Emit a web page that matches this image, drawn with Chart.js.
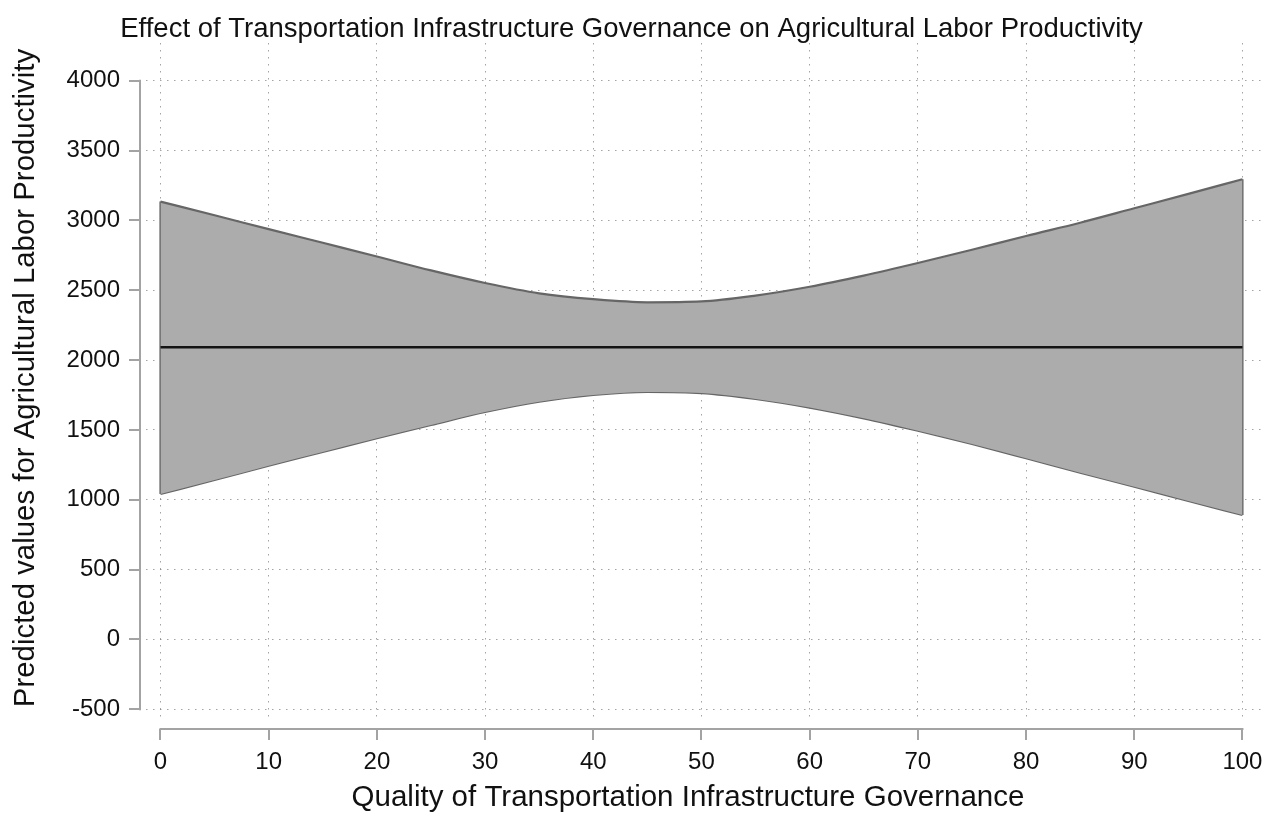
<!DOCTYPE html>
<html>
<head>
<meta charset="utf-8">
<title>Effect of Transportation Infrastructure Governance on Agricultural Labor Productivity</title>
<script src="https://cdn.jsdelivr.net/npm/chart.js@4.4.1/dist/chart.umd.min.js"></script>
<style>
  html, body { margin: 0; padding: 0; background: #ffffff; }
  #c { display: block; }
</style>
</head>
<body>
<canvas id="c" width="1266" height="815"></canvas>
<script>
// Quality of transportation infrastructure governance (x)
const quality = [0, 5, 10, 15, 20, 25, 30, 35, 40, 45, 50, 55, 60, 65, 70, 75, 80, 85, 90, 95, 100];
// Predicted agricultural labor productivity and its confidence bounds
const predicted = [2092, 2092, 2092, 2092, 2092, 2092, 2092, 2092, 2092, 2092, 2092,
                   2092, 2092, 2092, 2092, 2092, 2092, 2092, 2092, 2092, 2092];
const upperCI = [3135, 3037, 2938, 2840, 2742, 2642, 2552, 2478, 2436, 2414, 2420,
                 2462, 2525, 2605, 2695, 2790, 2889, 2984, 3087, 3190, 3295];
const lowerCI = [1041, 1141, 1244, 1342, 1440, 1535, 1628, 1702, 1750, 1772, 1764,
                 1722, 1660, 1583, 1494, 1399, 1297, 1193, 1093, 991, 890];
// Axis ticks
const xTicks = [0, 10, 20, 30, 40, 50, 60, 70, 80, 90, 100];
const yTicks = [-500, 0, 500, 1000, 1500, 2000, 2500, 3000, 3500, 4000];
// Titles
const chartTitle = 'Effect of Transportation Infrastructure Governance on Agricultural Labor Productivity';
const xTitle = 'Quality of Transportation Infrastructure Governance';
const yTitle = 'Predicted values for Agricultural Labor Productivity';

const FONT = '"Liberation Sans", Arial, Helvetica, sans-serif';
const BAND_FILL = '#acacac';
const BAND_EDGE = '#666666';
const AXIS_GRAY = '#a3a3a3';
const GRID = 'rgba(90,90,90,0.55)';

const pts = (ys) => quality.map((x, i) => ({ x: x, y: ys[i] }));
const last = quality.length - 1;

// Stata-style detached axis lines with outward tick marks, plus axis titles
const detachedAxes = {
  id: 'detachedAxes',
  afterDraw(chart) {
    const { ctx, chartArea, scales: { x, y } } = chart;
    ctx.save();
    ctx.strokeStyle = AXIS_GRAY;
    ctx.lineWidth = 2;
    ctx.lineCap = 'butt';
    // y axis
    const ax = chartArea.left - 6;
    ctx.beginPath();
    ctx.moveTo(ax, y.getPixelForValue(yTicks[0]) + 1);
    ctx.lineTo(ax, y.getPixelForValue(yTicks[yTicks.length - 1]) - 1);
    yTicks.forEach(v => {
      const py = Math.round(y.getPixelForValue(v));
      ctx.moveTo(ax, py);
      ctx.lineTo(ax - 11, py);
    });
    ctx.stroke();
    // x axis
    const ay = chartArea.bottom + 8;
    ctx.beginPath();
    ctx.moveTo(x.getPixelForValue(xTicks[0]) - 1, ay);
    ctx.lineTo(x.getPixelForValue(xTicks[xTicks.length - 1]) + 1, ay);
    xTicks.forEach(v => {
      const px = Math.round(x.getPixelForValue(v));
      ctx.moveTo(px, ay);
      ctx.lineTo(px, ay + 11);
    });
    ctx.stroke();

    // axis titles
    ctx.fillStyle = '#111111';
    ctx.font = '29.5px ' + FONT;
    ctx.textAlign = 'center';
    ctx.textBaseline = 'middle';
    ctx.fillText(xTitle, 688, 798);
    ctx.translate(25.5, 378);
    ctx.rotate(-Math.PI / 2);
    ctx.font = '29.4px ' + FONT;
    ctx.fillText(yTitle, 0, 0);
    ctx.restore();
  }
};

const ctx = document.getElementById('c').getContext('2d');
new Chart(ctx, {
  type: 'line',
  data: {
    datasets: [
      {
        label: 'Predicted value',
        data: pts(predicted),
        borderColor: '#141414',
        borderWidth: 2.5,
        fill: false,
        pointRadius: 0
      },
      {
        label: 'Upper bound',
        data: pts(upperCI),
        borderColor: BAND_EDGE,
        borderWidth: 2.2,
        backgroundColor: BAND_FILL,
        fill: '+1',
        pointRadius: 0,
        cubicInterpolationMode: 'monotone'
      },
      {
        label: 'Lower bound',
        data: pts(lowerCI),
        borderColor: BAND_EDGE,
        borderWidth: 2.2,
        fill: false,
        pointRadius: 0,
        cubicInterpolationMode: 'monotone'
      },
      {
        label: 'Left edge',
        data: [{ x: quality[0], y: lowerCI[0] }, { x: quality[0], y: upperCI[0] }],
        borderColor: BAND_EDGE,
        borderWidth: 2.2,
        fill: false,
        pointRadius: 0
      },
      {
        label: 'Right edge',
        data: [{ x: quality[last], y: lowerCI[last] }, { x: quality[last], y: upperCI[last] }],
        borderColor: BAND_EDGE,
        borderWidth: 2.2,
        fill: false,
        pointRadius: 0
      }
    ]
  },
  options: {
    responsive: false,
    animation: false,
    events: [],
    layout: { padding: { top: 0, right: 3, bottom: 0, left: 0 } },
    plugins: {
      legend: { display: false },
      tooltip: { enabled: false },
      title: {
        display: true,
        text: chartTitle,
        color: '#111111',
        font: { family: FONT, size: 27.5, weight: 'normal', lineHeight: 1.0 },
        padding: { top: 15.5, bottom: 0 }
      }
    },
    scales: {
      x: {
        type: 'linear',
        min: -1.34,
        max: 101.9,
        z: 1,
        afterFit(scale) {
          scale.height = 94;
          scale.paddingLeft = 0;
          scale.paddingRight = 0;
        },
        afterBuildTicks(scale) { scale.ticks = xTicks.map(v => ({ value: v })); },
        ticks: {
          color: '#111111',
          font: { family: FONT, size: 24 },
          padding: 27,
          maxRotation: 0,
          autoSkip: false,
          callback: (v) => String(v)
        },
        grid: {
          color: GRID,
          lineWidth: 1,
          drawTicks: false
        },
        border: { display: false, dash: [1.5, 5.5] },
        title: { display: false }
      },
      y: {
        type: 'linear',
        min: -585,
        max: 4271,
        z: 1,
        afterFit(scale) {
          scale.width = 146;
          scale.paddingTop = 0;
          scale.paddingBottom = 0;
        },
        afterBuildTicks(scale) { scale.ticks = yTicks.map(v => ({ value: v })); },
        ticks: {
          color: '#111111',
          font: { family: FONT, size: 24 },
          padding: 26,
          autoSkip: false,
          callback: (v) => String(v)
        },
        grid: {
          color: GRID,
          lineWidth: 1,
          drawTicks: false
        },
        border: { display: false, dash: [1.5, 5.5] },
        title: { display: false }
      }
    }
  },
  plugins: [detachedAxes]
});
</script>
</body>
</html>
